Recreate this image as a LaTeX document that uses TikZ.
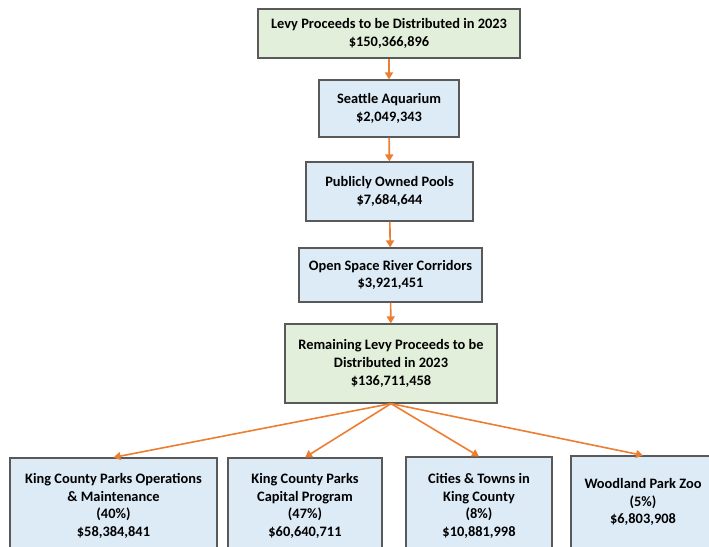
\documentclass[tikz,border=0pt]{standalone}
\usepackage{fontspec}
\setmainfont{Carlito}
\usepackage{xcolor}
\usepackage{tikz}
\usetikzlibrary{arrows.meta}
\definecolor{levygreen}{HTML}{E2EFDA}
\definecolor{levyblue}{HTML}{DDEBF7}
\definecolor{levyedge}{HTML}{595959}
\definecolor{levyorange}{HTML}{ED7D31}

\begin{document}
\begin{tikzpicture}[x=1pt,y=-1pt,
		box/.style={draw=levyedge,line width=1.2pt,fill=levyblue,align=center,inner sep=0pt,
			font=\fontsize{14.4}{17.8}\selectfont\bfseries},
		total/.style={box,fill=levygreen},
		flow/.style={draw=levyorange,line width=1.6pt,-{Triangle[length=7pt,width=8pt]}}]
		\useasboundingbox (0,0) rectangle (709,546);
		\clip (0,0) rectangle (709,546);
		\node[total,minimum width=262pt,minimum height=49pt] (levy) at (389,33.5) {Levy Proceeds to be Distributed in 2023\\\$150,366,896};
		\node[box,minimum width=140pt,minimum height=57pt] (aquarium) at (389,108.5) {Seattle Aquarium\\\$2,049,343};
		\node[box,minimum width=167pt,minimum height=59pt] (pools) at (389.5,191.5) {Publicly Owned Pools\\\$7,684,644};
		\node[box,minimum width=183pt,minimum height=54pt] (river) at (390.5,275) {Open Space River Corridors\\\$3,921,451};
		\node[total,minimum width=212pt,minimum height=79pt] (remain) at (391,363.5) {Remaining Levy Proceeds to be\\Distributed in 2023\\\$136,711,458};
		\node[box,minimum width=207pt,minimum height=96pt] (operations) at (113.5,506) {King County Parks Operations\\\& Maintenance\\(40\%)\\\$58,384,841};
		\node[box,minimum width=154pt,minimum height=96pt] (capital) at (305,506) {King County Parks\\Capital Program\\(47\%)\\\$60,640,711};
		\node[box,minimum width=146pt,minimum height=98pt] (cities) at (479,506) {Cities \& Towns in\\King County\\(8\%)\\\$10,881,998};
		\node[box,minimum width=144pt,minimum height=92pt] (zoo) at (643,502) {Woodland Park Zoo\\(5\%)\\\$6,803,908};
		\draw[flow] (levy) -- (aquarium);
		\draw[flow] (aquarium) -- (pools);
		\draw[flow] (pools) -- (river);
		\draw[flow] (river) -- (remain);
		\draw[flow] (remain.south) -- (operations.north);
		\draw[flow] (remain.south) -- (capital.north);
		\draw[flow] (remain.south) -- (cities.north);
		\draw[flow] (remain.south) -- (zoo.north);
\end{tikzpicture}
\end{document}
